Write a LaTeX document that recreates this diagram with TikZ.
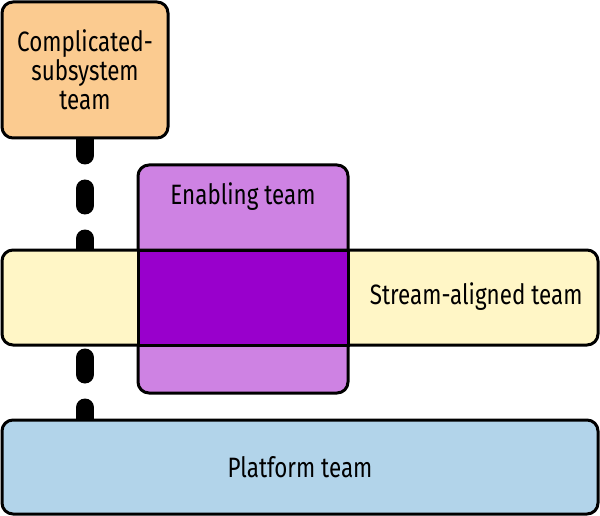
\documentclass[tikz,border=0pt]{standalone}
\usepackage{fontspec}
\setmainfont[FakeStretch=0.8]{Fira Sans}
\usetikzlibrary{backgrounds}
\definecolor{orangefill}{HTML}{FBCB90}
\definecolor{lightpurple}{HTML}{CE82E3}
\definecolor{darkpurple}{HTML}{9900CC}
\definecolor{yellowfill}{HTML}{FFF6C6}
\definecolor{bluefill}{HTML}{B2D4EA}
\tikzset{
  teambox/.style={draw=black, line width=3pt, rounded corners=11pt, rectangle, inner sep=0pt, align=center,
    font=\fontsize{28}{29}\selectfont},
  dashline/.style={line width=18pt, line cap=round, dash pattern=on 17pt off 33pt}
}
\begin{document}
\begin{tikzpicture}[x=1pt,y=-1pt]
\useasboundingbox (0,0) rectangle (600,516);
\node[teambox, fill=orangefill, minimum width=166pt, minimum height=136pt] (cst) at (85,70) {Complicated-\\subsystem\\team};
\node[teambox, fill=lightpurple, minimum width=210pt, minimum height=228pt] (en) at (243,279) {};
\node[font=\fontsize{28}{29}\selectfont] (enl) at (243,197) {Enabling team};
\node[teambox, fill=yellowfill, minimum width=596pt, minimum height=95pt] (sat) at (300,297.5) {};
\node[font=\fontsize{28}{29}\selectfont, anchor=east] (satl) at (586,297) {Stream-aligned team};
\node[draw=black, line width=3pt, fill=darkpurple, rectangle, inner sep=0pt, minimum width=210pt, minimum height=95pt] (ov) at (243,297.5) {};
\node[teambox, fill=bluefill, minimum width=596pt, minimum height=94pt] (pt) at (300,467) {Platform team};
\begin{pgfonlayer}{background}
\draw[dashline, dash phase=1pt] (cst.south) -- (cst.south |- sat.north);
\draw[dashline, dash phase=39pt] (cst.south |- sat.south) -- (cst.south |- pt.north);
\end{pgfonlayer}
\end{tikzpicture}
\end{document}
